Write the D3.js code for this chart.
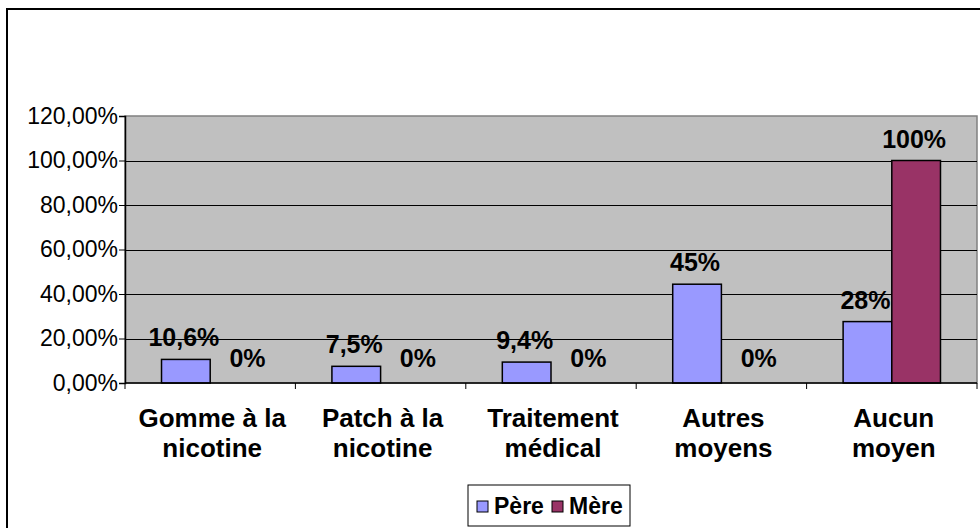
<!DOCTYPE html>
<html>
<head>
<meta charset="utf-8">
<script src="https://cdn.jsdelivr.net/npm/d3@7"></script>
<style>
  body { margin: 0; background: #fff; }
  svg { display: block; font-family: Arial, "Liberation Sans", sans-serif; }
</style>
</head>
<body>
<script>
const categories = ["Gomme à la\nnicotine", "Patch à la\nnicotine", "Traitement\nmédical", "Autres\nmoyens", "Aucun\nmoyen"];
const seriesNames = ["Père", "Mère"];
const pereValues = [10.6, 7.5, 9.4, 44.4, 27.6];
const mereValues = [0, 0, 0, 0, 100];
const pereLabels = ["10,6%", "7,5%", "9,4%", "45%", "28%"];
const mereLabels = ["0%", "0%", "0%", "0%", "100%"];
const yTicks = [0, 20, 40, 60, 80, 100, 120];
const colors = ["#9999FF", "#993366"];

const width = 980, height = 528;
const plot = { left: 125, top: 116, right: 977, bottom: 383 };

const svg = d3.select("body").append("svg")
    .attr("width", width)
    .attr("height", height);

// outer chart frame (runs off the picture at right and bottom)
svg.append("rect")
    .attr("x", 7).attr("y", 9)
    .attr("width", 1000).attr("height", 600)
    .attr("fill", "#fff")
    .attr("stroke", "#000")
    .attr("stroke-width", 2);

const x = d3.scaleBand()
    .domain(d3.range(categories.length))
    .range([plot.left, plot.right]);

const gap = x.bandwidth() * 1.5 / 3.5;
const xs = d3.scaleBand()
    .domain(seriesNames)
    .range([gap / 2, x.bandwidth() - gap / 2]);

const y = d3.scaleLinear()
    .domain([0, 120])
    .range([plot.bottom, plot.top]);

// plot area
svg.append("rect")
    .attr("x", plot.left).attr("y", plot.top)
    .attr("width", plot.right - plot.left)
    .attr("height", plot.bottom - plot.top)
    .attr("fill", "#C0C0C0")
    .attr("stroke", "#808080")
    .attr("stroke-width", 1.5);

svg.append("g")
    .selectAll("line")
    .data(yTicks.filter(d => d > 0 && d < 120))
    .enter().append("line")
    .attr("x1", plot.left).attr("x2", plot.right)
    .attr("y1", d => Math.round(y(d)) + 0.5)
    .attr("y2", d => Math.round(y(d)) + 0.5)
    .attr("stroke", "#000")
    .attr("stroke-width", 1);

const series = [
    { name: "Père", values: pereValues, labels: pereLabels },
    { name: "Mère", values: mereValues, labels: mereLabels }
];

series.forEach((s, si) => {
    const g = svg.append("g");
    g.selectAll("rect")
        .data(s.values)
        .enter().append("rect")
        .attr("x", (d, i) => x(i) + xs(s.name))
        .attr("y", d => y(d))
        .attr("width", xs.bandwidth())
        .attr("height", d => y(0) - y(d))
        .attr("fill", colors[si])
        .attr("stroke", d => d > 0 ? "#000" : "none")
        .attr("stroke-width", 1.5);

    g.selectAll("text")
        .data(s.values)
        .enter().append("text")
        .attr("x", (d, i) => x(i) + xs(s.name) + xs.bandwidth() / 2 + (d === 0 ? 13 : -2))
        .attr("y", d => y(d) - (d === 0 ? 16 : 13))
        .attr("text-anchor", "middle")
        .attr("font-size", 25)
        .attr("font-weight", "bold")
        .attr("fill", "#000")
        .text((d, i) => s.labels[i]);
});

// y axis
const yAxis = d3.axisLeft(y)
    .tickValues(yTicks)
    .tickSize(6)
    .tickPadding(1)
    .tickFormat(d => d.toFixed(2).replace(".", ",") + "%");

const yg = svg.append("g")
    .attr("transform", `translate(${plot.left},0)`)
    .call(yAxis);
yg.select(".domain").attr("stroke", "#000").attr("stroke-width", 1.5);
yg.selectAll(".tick line").attr("stroke", "#000");
yg.selectAll(".tick text")
    .attr("font-size", 23)
    .attr("font-family", "Arial, 'Liberation Sans', sans-serif")
    .attr("fill", "#000");

// x axis
const xg = svg.append("g")
    .attr("transform", `translate(0,${plot.bottom})`);
xg.append("line")
    .attr("x1", plot.left).attr("x2", plot.right)
    .attr("stroke", "#000").attr("stroke-width", 1.5);
xg.selectAll("line.tick")
    .data(d3.range(categories.length + 1))
    .enter().append("line")
    .attr("class", "tick")
    .attr("x1", i => i < categories.length ? x(i) : plot.right)
    .attr("x2", i => i < categories.length ? x(i) : plot.right)
    .attr("y1", 0).attr("y2", 6)
    .attr("stroke", "#000");

const catText = svg.append("g").selectAll("text")
    .data(categories)
    .enter().append("text")
    .attr("text-anchor", "middle")
    .attr("font-size", 26)
    .attr("font-weight", "bold")
    .attr("fill", "#000");
catText.each(function (d, i) {
    const t = d3.select(this);
    d.split("\n").forEach((line, li) => {
        t.append("tspan")
            .attr("x", x(i) + x.bandwidth() / 2 + 2)
            .attr("y", 427 + li * 30)
            .text(line);
    });
});

// legend
const legend = svg.append("g").attr("transform", "translate(468,485)");
legend.append("rect")
    .attr("width", 162).attr("height", 41)
    .attr("fill", "#fff")
    .attr("stroke", "#000")
    .attr("stroke-width", 1);
const legendX = [9, 84];
const item = legend.selectAll("g.item")
    .data(seriesNames)
    .enter().append("g")
    .attr("class", "item")
    .attr("transform", (d, i) => `translate(${legendX[i]},0)`);
item.append("rect")
    .attr("x", 0).attr("y", 16)
    .attr("width", 11).attr("height", 11)
    .attr("fill", (d, i) => colors[i])
    .attr("stroke", "#000")
    .attr("stroke-width", 1);
item.append("text")
    .attr("x", 17).attr("y", 29)
    .attr("font-size", 23)
    .attr("font-weight", "bold")
    .attr("fill", "#000")
    .text(d => d);
</script>
</body>
</html>
